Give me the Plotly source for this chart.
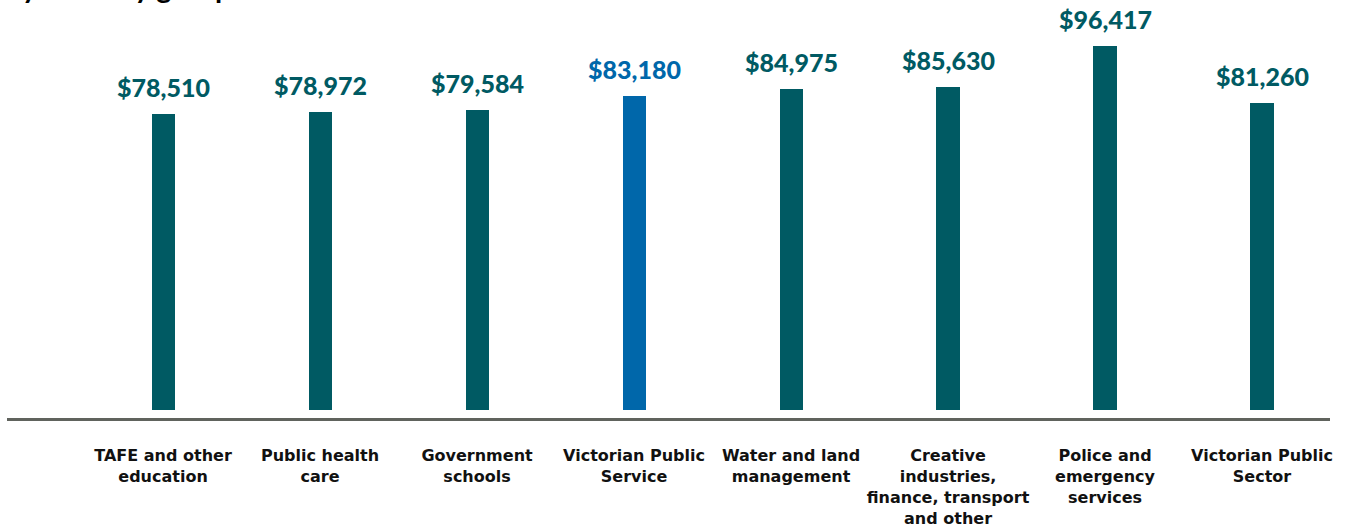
import plotly.graph_objects as go

categories = [
    "TAFE and other<br>education",
    "Public health<br>care",
    "Government<br>schools",
    "Victorian Public<br>Service",
    "Water and land<br>management",
    "Creative<br>industries,<br>finance, transport<br>and other",
    "Police and<br>emergency<br>services",
    "Victorian Public<br>Sector",
]
values = [78510, 78972, 79584, 83180, 84975, 85630, 96417, 81260]
labels = ["$78,510", "$78,972", "$79,584", "$83,180", "$84,975", "$85,630", "$96,417", "$81,260"]
highlight = "Victorian Public<br>Service"
title_text = "by industry group"

TEAL = "#005a63"
BLUE = "#0067aa"
colors = [BLUE if c == highlight else TEAL for c in categories]

x_idx = list(range(len(categories)))

fig = go.Figure()
fig.add_trace(go.Bar(
    x=x_idx, y=values, marker=dict(color=colors, line=dict(width=0)),
    width=0.147, hoverinfo="skip",
))

for i, (v, t, c) in enumerate(zip(values, labels, colors)):
    fig.add_annotation(
        x=i, y=v, text=t, showarrow=False, yanchor="bottom", yshift=10,
        font=dict(family="Lato", size=25, color=c, weight=900),
    )

# partially visible chart title (cut off at top, as in the reference)
fig.add_annotation(
    xref="paper", yref="paper", x=0, y=1, xanchor="left", yanchor="bottom",
    xshift=-3, yshift=-6, text="<b>" + title_text + "</b>", showarrow=False,
    font=dict(family="Lato", size=29, color="#000000"),
)

fig.update_layout(
    width=1350, height=528,
    margin=dict(l=7, r=20, t=0, b=108),
    plot_bgcolor="white", paper_bgcolor="white",
    showlegend=False,
    bargap=0,
    xaxis=dict(
        range=[-0.994, 7.433], tickmode="array", tickvals=x_idx, ticktext=categories,
        showline=True, linecolor="#60635d", linewidth=3, showgrid=False, zeroline=False,
        ticks="outside", ticklen=21, tickcolor="rgba(0,0,0,0)",
        tickfont=dict(family="DejaVu Sans", size=16, color="#111111", weight="bold"),
        tickangle=0,
    ),
    yaxis=dict(range=[-2120, 108600], visible=False, showgrid=False, zeroline=False),
)

fig.write_html(
    "out.html",
    config={"displayModeBar": False},
    post_script="document.body.style.margin='0px';document.body.style.overflow='hidden';",
)
